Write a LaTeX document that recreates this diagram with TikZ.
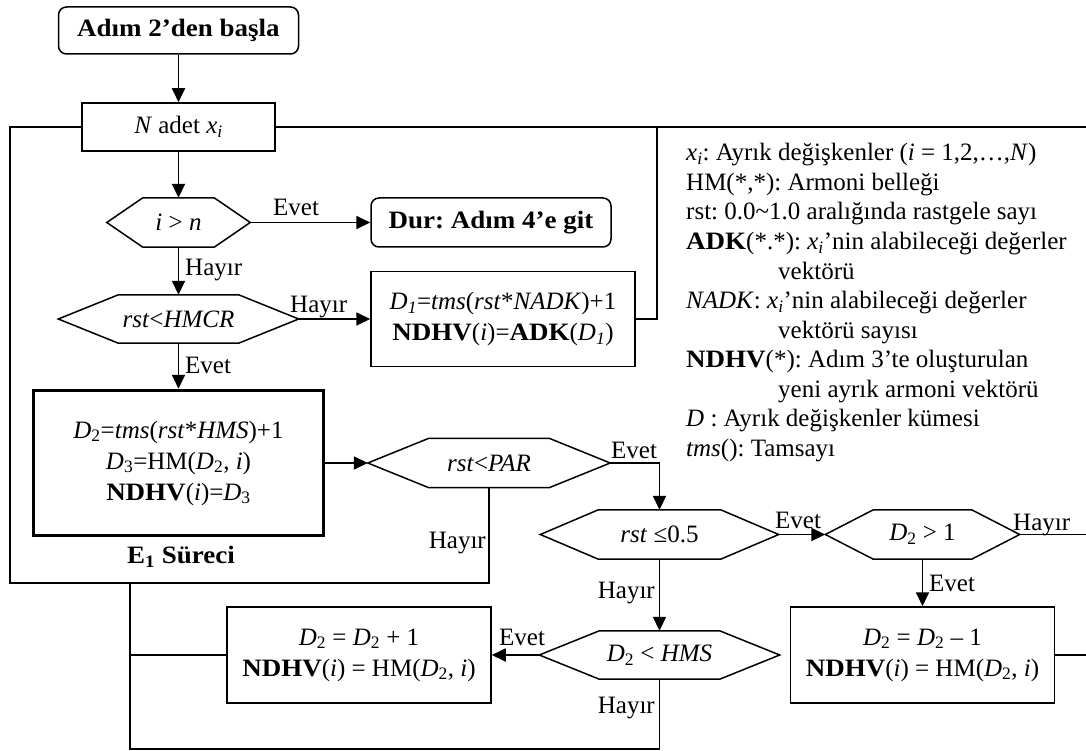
\documentclass[tikz,border=0pt]{standalone}
\usepackage{fontspec}
\setmainfont{Liberation Serif}[BoldFeatures={FakeStretch=1.08}]
\usetikzlibrary{arrows.meta}
\newcommand{\sbs}[1]{\textsubscript{#1}}
\frenchspacing
\begin{document}
\begin{tikzpicture}[x=1pt,y=-1pt,
  every node/.style={font=\fontsize{25}{31}\selectfont, inner sep=0pt, align=center},
  conn/.style={line width=1.8pt},
  arr/.style={conn, -{Triangle[length=14pt,width=13pt]}},
  procbox/.style={draw, line width=1.5pt},
  termbox/.style={draw, line width=1.5pt, rounded corners=8pt},
  mainbox/.style={draw, line width=3.5pt},
  hexline/.style={draw, line width=1.5pt, line join=miter},
  lbl/.style={anchor=base west},
  lblleft/.style={anchor=base east},
  legend/.style={anchor=base west}]
\useasboundingbox (0,0) rectangle (1086,751);

% terminals and process boxes
\node[termbox, minimum width=240pt, minimum height=47pt, font=\fontsize{25}{31}\selectfont\bfseries]
  (start) at (178.5,30.5) {Adım 2’den başla};
\node[procbox, minimum width=193pt, minimum height=48pt]
  (nbox) at (178.5,127) {\textit{N} adet \textit{x}\sbs{\textit{i}}};
\node[termbox, minimum width=240pt, minimum height=49pt, font=\fontsize{25}{31}\selectfont\bfseries]
  (dur) at (491,222.5) {Dur: Adım 4’e git};
\node[procbox, minimum width=264pt, minimum height=95pt]
  (d1) at (503,319) {\textit{D}\sbs{\textit{1}}=\textit{tms}(\textit{rst}*\textit{NADK})+1\\
  \textbf{NDHV}(\textit{i})=\textbf{ADK}(\textit{D}\sbs{\textit{1}})};
\node[mainbox, minimum width=290pt, minimum height=145pt]
  (e1) at (178.5,463) {\textit{D}\sbs{2}=\textit{tms}(\textit{rst}*\textit{HMS})+1\\
  \textit{D}\sbs{3}=HM(\textit{D}\sbs{2}, \textit{i})\\
  \textbf{NDHV}(\textit{i})=\textit{D}\sbs{3}};
\node[font=\fontsize{25}{31}\selectfont\bfseries] (e1name) at (181,557) {E\sbs{1} Süreci};
\node[procbox, minimum width=264pt, minimum height=96pt]
  (dminus) at (922.5,655) {\textit{D}\sbs{2} = \textit{D}\sbs{2} – 1\\
  \textbf{NDHV}(\textit{i}) = HM(\textit{D}\sbs{2}, \textit{i})};
\node[procbox, minimum width=264pt, minimum height=96pt]
  (dplus) at (359,655) {\textit{D}\sbs{2} = \textit{D}\sbs{2} + 1\\
  \textbf{NDHV}(\textit{i}) = HM(\textit{D}\sbs{2}, \textit{i})};

% decisions (outline drawn below)
\node[minimum width=143pt, minimum height=49pt] (ign) at (178.5,222.5) {\textit{i} > \textit{n}};
\node[minimum width=240pt, minimum height=48pt] (hmcr) at (178.5,319) {\textit{rst}<\textit{HMCR}};
\node[minimum width=242pt, minimum height=49pt] (par) at (489,463) {\textit{rst}<\textit{PAR}};
\node[minimum width=238pt, minimum height=49pt] (half) at (659.5,534.5) {\textit{rst} ≤0.5};
\node[minimum width=194pt, minimum height=49pt] (dgt) at (922.5,534.5) {\textit{D}\sbs{2} > 1};
\node[minimum width=240pt, minimum height=48pt] (hms) at (659.5,655) {\textit{D}\sbs{2} < \textit{HMS}};

\foreach \n/\s in {ign/36,hmcr/60,par/61,half/58,dgt/48,hms/60}
  \draw[hexline] (\n.west) -- ([xshift=\s pt]\n.north west) -- ([xshift=-\s pt]\n.north east)
    -- (\n.east) -- ([xshift=-\s pt]\n.south east) -- ([xshift=\s pt]\n.south west) -- cycle;

% loose ends and junctions
\coordinate (rtop) at (1086,127);
\coordinate (jtop) at (657,127);
\coordinate (rmid) at (1086,534.5);
\coordinate (rlow) at (1086,655);
\coordinate (looptl) at (10,127);
\coordinate (loopbl) at (10,583);
\coordinate (jleft) at (130,583);
\coordinate (jbot) at (130,749);

% connectors
\draw[arr] (start.south) -- (nbox.north);
\draw[arr] (nbox.south) -- (ign.north);
\draw[arr] (ign.east) -- (dur.west);
\draw[arr] (ign.south) -- (hmcr.north);
\draw[arr] (hmcr.east) -- (d1.west);
\draw[arr] (hmcr.south) -- (e1.north);
\draw[arr] (e1.east) -- (par.west);
\draw[arr] (par.east) -| (half.north);
\draw[arr] (half.east) -- (dgt.west);
\draw[arr] (half.south) -- (hms.north);
\draw[arr] (dgt.south) -- (dminus.north);
\draw[arr] (hms.west) -- (dplus.east);
\draw[conn] (nbox.east) -- (rtop);
\draw[conn] (d1.east) -| (jtop);
\draw[conn] (dgt.east) -- (rmid);
\draw[conn] (dminus.east) -- (rlow);
\draw[conn] (par.south) |- (loopbl) -- (looptl) -- (nbox.west);
\draw[conn] (dplus.west) -- (dplus.west -| jleft);
\draw[conn] (hms.south) |- (jbot) -- (jleft);

% branch labels
\node[lbl] (l1) at (273,216) {Evet};
\node[lbl] (l2) at (185,275) {Hayır};
\node[lbl] (l3) at (290,312) {Hayır};
\node[lbl] (l4) at (185,373) {Evet};
\node[lblleft] (l5) at (486,548) {Hayır};
\node[lbl] (l6) at (611,458) {Evet};
\node[lbl] (l7) at (775,528) {Evet};
\node[lbl] (l8) at (1013,530) {Hayır};
\node[lblleft] (l9) at (655,598) {Hayır};
\node[lbl] (l10) at (929,591) {Evet};
\node[lbl] (l11) at (499,645) {Evet};
\node[lblleft] (l12) at (655,713) {Hayır};

% legend
\node[legend] (g1) at (686,161) {\textit{x}\sbs{\textit{i}}: Ayrık değişkenler (\textit{i} = 1,2,…,\textit{N})};
\node[legend] (g2) at (686,190.5) {HM(*,*): Armoni belleği};
\node[legend] (g3) at (686,220) {rst: 0.0\textasciitilde1.0 aralığında rastgele sayı};
\node[legend] (g4) at (686,249.5) {\textbf{ADK}(*.*): \textit{x}\sbs{\textit{i}}’nin alabileceği değerler};
\node[legend] (g5) at (778,279) {vektörü};
\node[legend] (g6) at (686,308.5) {\textit{NADK}: \textit{x}\sbs{\textit{i}}’nin alabileceği değerler};
\node[legend] (g7) at (778,338) {vektörü sayısı};
\node[legend] (g8) at (686,367.5) {\textbf{NDHV}(*): Adım 3’te oluşturulan};
\node[legend] (g9) at (778,397) {yeni ayrık armoni vektörü};
\node[legend] (g10) at (686,426.5) {\textit{D} : Ayrık değişkenler kümesi};
\node[legend] (g11) at (686,456) {\textit{tms}(): Tamsayı};
\end{tikzpicture}
\end{document}
